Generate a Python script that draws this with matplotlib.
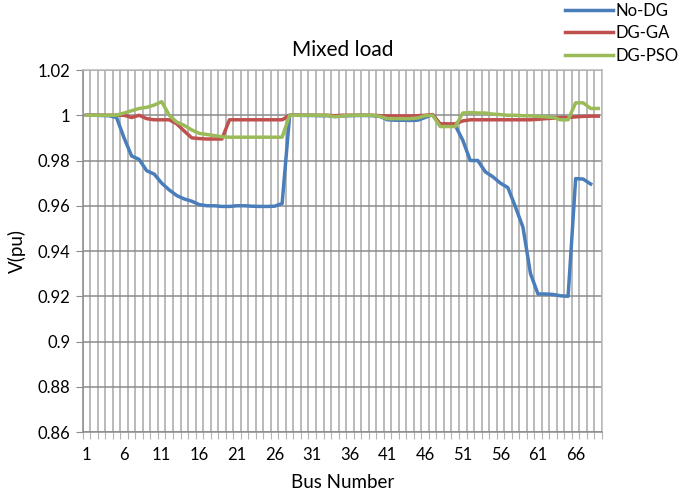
import numpy as np
import matplotlib
matplotlib.use("Agg")
import matplotlib.pyplot as plt

# bus voltages (pu)
buses = list(range(1, 70))

no_dg = [
    1.0, 1.0, 0.9999, 0.9998, 0.999, 0.990, 0.982, 0.9805, 0.9755, 0.974,
    0.970, 0.967, 0.9645, 0.963, 0.962, 0.9605, 0.960, 0.960, 0.9597, 0.9597,
    0.960, 0.960, 0.9598, 0.9597, 0.9597, 0.9598, 0.961, 1.0, 1.0, 0.9999,
    0.9999, 0.9998, 0.9998, 0.9995, 0.9997, 0.9998, 0.9999, 0.9999, 0.9998, 0.9995,
    0.998, 0.9978, 0.9978, 0.9977, 0.9978, 0.999, 1.0003, 0.996, 0.996, 0.9955,
    0.989, 0.980, 0.980, 0.975, 0.9728, 0.970, 0.968, 0.9595, 0.9505, 0.930,
    0.921, 0.921, 0.9208, 0.9202, 0.920, 0.972, 0.9718, 0.9696,
]

dg_ga = [
    1.0, 1.0, 1.0, 1.0, 1.0, 1.0, 0.999, 1.0, 0.9985, 0.998,
    0.998, 0.998, 0.9962, 0.993, 0.990, 0.9897, 0.9895, 0.9895, 0.9895, 0.998,
    0.998, 0.998, 0.998, 0.998, 0.998, 0.998, 0.998, 1.0, 1.0, 1.0,
    1.0, 1.0, 1.0, 0.9998, 1.0, 1.0, 1.0, 1.0, 1.0, 0.9998,
    0.9997, 0.9997, 0.9997, 0.9997, 0.9998, 1.0, 1.0003, 0.9962, 0.9962, 0.9962,
    0.9975, 0.998, 0.998, 0.998, 0.998, 0.998, 0.998, 0.998, 0.998, 0.998,
    0.9982, 0.9985, 0.9987, 0.999, 0.999, 0.9993, 0.9995, 0.9996, 0.9996,
]

dg_pso = [
    1.0, 1.0, 1.0, 1.0, 1.0, 1.001, 1.002, 1.003, 1.0035, 1.0045,
    1.006, 1.0, 0.997, 0.9955, 0.9935, 0.992, 0.9915, 0.991, 0.9905, 0.9903,
    0.9903, 0.9903, 0.9903, 0.9903, 0.9903, 0.9903, 0.9903, 1.0, 1.0, 1.0,
    1.0, 1.0, 1.0, 0.9993, 0.9997, 1.0, 1.0, 1.0, 1.0, 0.9995,
    0.9985, 0.9985, 0.9985, 0.9985, 0.9988, 0.9998, 1.0, 0.995, 0.995, 0.995,
    1.001, 1.0012, 1.001, 1.001, 1.0005, 1.0003, 1.0, 1.0, 0.9998, 0.9997,
    0.9995, 0.9993, 0.999, 0.998, 0.998, 1.0055, 1.0055, 1.003, 1.003,
]

series = [
    ("No-DG", no_dg, "#4a7ebb"),
    ("DG-GA", dg_ga, "#c0504d"),
    ("DG-PSO", dg_pso, "#9bbb59"),
]

x_labels = list(range(1, 70, 5))
y_ticks = [0.86, 0.88, 0.9, 0.92, 0.94, 0.96, 0.98, 1.0, 1.02]
y_labels = ["0.86", "0.88", "0.9", "0.92", "0.94", "0.96", "0.98", "1", "1.02"]

plt.rcParams["font.family"] = ["Lato", "DejaVu Sans"]

fig = plt.figure(figsize=(6.89, 4.93), dpi=100)
ax = fig.add_axes([0.12, 0.1237, 0.7537, 0.7343])

for name, vals, color in series:
    ax.plot(buses[:len(vals)], vals, color=color, linewidth=2.5, label=name,
            solid_joinstyle="round", zorder=3)

ax.set_xlim(0.5, 69.5)
ax.set_ylim(0.86, 1.02)

# category boundaries carry the grid, labels sit at the category centres
ax.set_xticks(np.arange(0.5, 70, 1))
ax.set_xticklabels([])
ax.tick_params(axis="x", which="major", length=5, color="#b4b4b4")
ax.set_xticks(x_labels, minor=True)
ax.set_xticklabels([str(b) for b in x_labels], minor=True)
ax.tick_params(axis="x", which="minor", length=0, labelsize=12, pad=11)

ax.set_yticks(y_ticks)
ax.set_yticklabels(y_labels)
ax.tick_params(axis="y", length=5, color="#8c8c8c", labelsize=12, pad=4)

ax.grid(True, axis="x", which="major", color="#bababa", linewidth=1.4)
ax.grid(True, axis="y", which="major", color="#8c8c8c", linewidth=1.1)
ax.set_axisbelow(True)
for side, sp in ax.spines.items():
    sp.set_color("#8c8c8c" if side in ("left", "bottom") else "#bababa")
    sp.set_linewidth(1.1)

ax.set_title("Mixed load", fontsize=15, pad=10)
ax.set_xlabel("Bus Number", fontsize=13.5, labelpad=8)
ax.set_ylabel("V(pu)", fontsize=13.5, labelpad=8)

fig.legend(loc="upper right", bbox_to_anchor=(1.0, 1.015), frameon=False,
           fontsize=12, handlelength=2.9, handletextpad=0.15,
           labelspacing=0.4, borderaxespad=0.2)

fig.savefig("out.png", dpi=100)
plt.close(fig)
